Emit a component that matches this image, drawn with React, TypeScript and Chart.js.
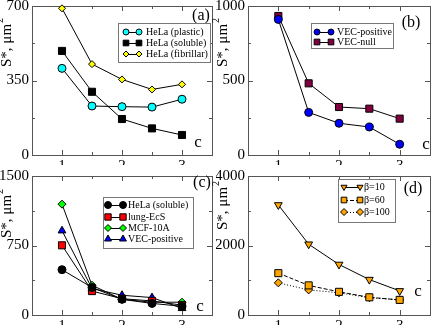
import { useEffect, useRef } from 'react';
import { Chart, registerables } from 'chart.js';
import { drawPoint } from 'chart.js/helpers';
Chart.register(...registerables);

// ---- data ----
const cValues = [1, 1.5, 2, 2.5, 3];
const xTickLabels = [1, 2, 3];

// panel (a)
const helaPlastic = [407, 230, 227, 225, 262];
const helaSoluble = [489, 297, 169, 125, 94];
const helaFibrillar = [689, 427, 355, 308, 332];
const yTicksA = [0, 350, 700];
// panel (b)
const vecPositive = [910, 286, 213, 188, 72];
const vecNull = [933, 481, 322, 311, 244];
const yTicksB = [0, 500, 1000];
// panel (c)
const lungEcS = [752, 258, 176, 152, 106];
const mcf10a = [1196, 321, 169, 138, 138];
const yTicksC = [0, 750, 1500];
// panel (d)
const beta10 = [3167, 2037, 1454, 1019, 694];
const beta60 = [1204, 852, 667, 509, 435];
const beta100 = [926, 722, 639, 500, 435];
const yTicksD = [0, 2000, 4000];

const W = 436;
const H = 331;
const YW = 32;
const XH = 10;
const FONT = 'Liberation Serif, Times New Roman, serif';

type Series = {
  label: string;
  values: number[];
  color: string;
  style: string;
  radius: number;
  legendRadius: number;
  rotation?: number;
  dash?: number[];
};

type Panel = {
  rect: { left: number; top: number; right: number; bottom: number };
  yTicks: number[];
  letter: string;
  letterPos: [number, number];
  cPos: [number, number];
  titleStart: number;
  legend: { left: number; top: number; right: number; bottom: number; rows: number[]; lx1: number; lx2: number; tx: number };
  series: Series[];
};

const panels: Panel[] = [
  {
    rect: { left: 32, top: 5, right: 212, bottom: 155 },
    yTicks: yTicksA,
    letter: '(a)',
    letterPos: [201, 16],
    cPos: [198, 143],
    titleStart: 67,
    legend: { left: 118, top: 23, right: 210, bottom: 62, rows: [32, 43, 54], lx1: 126, lx2: 139, tx: 146 },
    series: [
      { label: 'HeLa (plastic)', values: helaPlastic, color: '#00ffff', style: 'circle', radius: 4, legendRadius: 3 },
      { label: 'HeLa (soluble)', values: helaSoluble, color: '#000000', style: 'rect', radius: 5, legendRadius: 4 },
      { label: 'HeLa (fibrillar)', values: helaFibrillar, color: '#ffff00', style: 'rectRot', radius: 3.5, legendRadius: 3 },
    ],
  },
  {
    rect: { left: 248, top: 5, right: 433, bottom: 155 },
    yTicks: yTicksB,
    letter: '(b)',
    letterPos: [411, 23],
    cPos: [426, 145],
    titleStart: 67,
    legend: { left: 311, top: 23, right: 393, bottom: 48, rows: [32, 42], lx1: 317, lx2: 331, tx: 337 },
    series: [
      { label: 'VEC-positive', values: vecPositive, color: '#0000ff', style: 'circle', radius: 4, legendRadius: 3 },
      { label: 'VEC-null', values: vecNull, color: '#800040', style: 'rect', radius: 5, legendRadius: 4 },
    ],
  },
  {
    rect: { left: 32, top: 176, right: 212, bottom: 315 },
    yTicks: yTicksC,
    letter: '(c)',
    letterPos: [202, 183],
    cPos: [200, 307],
    titleStart: 238,
    legend: { left: 103, top: 197, right: 193, bottom: 248, rows: [205, 217, 228, 239], lx1: 108, lx2: 123, tx: 128 },
    series: [
      { label: 'HeLa (soluble)', values: helaSoluble, color: '#000000', style: 'circle', radius: 4, legendRadius: 3.5 },
      { label: 'lung-EcS', values: lungEcS, color: '#ff0000', style: 'rect', radius: 5, legendRadius: 4.5 },
      { label: 'MCF-10A', values: mcf10a, color: '#00ff00', style: 'rectRot', radius: 4, legendRadius: 3.5 },
      { label: 'VEC-positive', values: vecPositive, color: '#0000ff', style: 'triangle', radius: 4.5, legendRadius: 4 },
    ],
  },
  {
    rect: { left: 248, top: 176, right: 433, bottom: 315 },
    yTicks: yTicksD,
    letter: '(d)',
    letterPos: [413, 189],
    cPos: [418, 292],
    titleStart: 230,
    legend: { left: 338, top: 179, right: 395, bottom: 222, rows: [187, 200, 212], lx1: 344, lx2: 360, tx: 364 },
    series: [
      { label: 'β=10', values: beta10, color: '#ffa500', style: 'triangle', rotation: 180, radius: 4.5, legendRadius: 3.5 },
      { label: 'β=60', values: beta60, color: '#ffa500', style: 'rect', radius: 5, legendRadius: 4 },
      { label: 'β=100', values: beta100, color: '#ffa500', style: 'rectRot', radius: 4, legendRadius: 3.5, dash: [1, 2] },
    ].map((s, i) => (i === 1 ? { ...s, dash: [4, 2] } : s)),
  },
];

function makePlugin(p: Panel) {
  return {
    id: 'panelDecor',
    beforeDatasetsDraw(chart: any) {
      const ctx = chart.ctx as CanvasRenderingContext2D;
      const { left, top, right, bottom } = chart.chartArea;
      const xs = chart.scales.x;
      const ys = chart.scales.y;
      ctx.save();
      ctx.strokeStyle = '#555';
      ctx.lineWidth = 1;
      ctx.strokeRect(Math.round(left) + 0.5, Math.round(top) + 0.5, Math.round(right - left), Math.round(bottom - top));
      const xMajor = xTickLabels;
      const xMinor = [1.5, 2.5];
      const yMax = p.yTicks[p.yTicks.length - 1];
      const yMajor = p.yTicks;
      const yMinor = [yMax / 4, (3 * yMax) / 4];
      ctx.beginPath();
      const xt = (v: number, len: number) => {
        const x = Math.round(xs.getPixelForValue(v)) + 0.5;
        ctx.moveTo(x, bottom);
        ctx.lineTo(x, bottom - len);
        ctx.moveTo(x, top);
        ctx.lineTo(x, top + len);
      };
      const yt = (v: number, len: number) => {
        const y = Math.round(ys.getPixelForValue(v)) + 0.5;
        ctx.moveTo(left, y);
        ctx.lineTo(left + len, y);
        ctx.moveTo(right, y);
        ctx.lineTo(right - len, y);
      };
      xMajor.forEach((v) => xt(v, 5));
      xMinor.forEach((v) => xt(v, 3));
      yMajor.forEach((v) => yt(v, 5));
      yMinor.forEach((v) => yt(v, 3));
      ctx.stroke();
      ctx.restore();
    },
    afterDraw(chart: any) {
      const ctx = chart.ctx as CanvasRenderingContext2D;
      const { left } = chart.chartArea;
      ctx.save();
      // y title
      ctx.fillStyle = '#000';
      ctx.translate(left - 21, p.titleStart);
      ctx.rotate(-Math.PI / 2);
      ctx.font = `15px ${FONT}`;
      ctx.textAlign = 'left';
      ctx.textBaseline = 'alphabetic';
      const t = 'S*, μm';
      ctx.fillText(t, 0, 0);
      const tw = ctx.measureText(t).width;
      ctx.font = `10px ${FONT}`;
      ctx.fillText('2', tw + 1, -8);
      ctx.restore();

      ctx.save();
      ctx.fillStyle = '#000';
      ctx.textAlign = 'center';
      ctx.textBaseline = 'middle';
      ctx.font = `17px ${FONT}`;
      ctx.fillText('c', p.cPos[0], p.cPos[1]);
      ctx.font = `16px ${FONT}`;
      ctx.fillText(p.letter, p.letterPos[0], p.letterPos[1]);

      // legend
      const L = p.legend;
      ctx.fillStyle = '#fff';
      ctx.fillRect(L.left, L.top, L.right - L.left, L.bottom - L.top);
      ctx.strokeStyle = '#777';
      ctx.lineWidth = 1;
      ctx.strokeRect(L.left + 0.5, L.top + 0.5, L.right - L.left, L.bottom - L.top);
      p.series.forEach((s, i) => {
        const y = L.rows[i];
        ctx.save();
        ctx.strokeStyle = '#000';
        ctx.lineWidth = 1;
        ctx.setLineDash(s.dash || []);
        ctx.beginPath();
        ctx.moveTo(L.lx1, y + 0.5);
        ctx.lineTo(L.lx2, y + 0.5);
        ctx.stroke();
        ctx.setLineDash([]);
        [L.lx1, L.lx2].forEach((x) => {
          ctx.fillStyle = s.color;
          ctx.strokeStyle = '#000';
          ctx.lineWidth = 1;
          drawPoint(ctx, { pointStyle: s.style as any, rotation: s.rotation || 0, radius: s.legendRadius, borderWidth: 1 }, x, y);
        });
        ctx.restore();
        ctx.fillStyle = '#000';
        ctx.font = `10px ${FONT}`;
        ctx.textAlign = 'left';
        ctx.textBaseline = 'middle';
        ctx.fillText(s.label, L.tx, y + 0.5);
      });
      ctx.restore();
    },
  };
}

function PanelChart({ p }: { p: Panel }) {
  const ref = useRef<HTMLCanvasElement | null>(null);
  useEffect(() => {
    if (!ref.current) return;
    const tickFont = { family: FONT, size: 15 };
    const chart = new Chart(ref.current, {
      type: 'line',
      data: {
        datasets: p.series.map((s) => ({
          label: s.label,
          data: cValues.map((c, i) => ({ x: c, y: s.values[i] })),
          borderColor: '#000',
          borderWidth: 1,
          borderDash: s.dash || [],
          pointStyle: s.style as any,
          pointRotation: s.rotation || 0,
          pointRadius: s.radius,
          pointBackgroundColor: s.color,
          pointBorderColor: '#000',
          pointBorderWidth: 1,
          tension: 0,
          fill: false,
          clip: false as any,
        })),
      },
      options: {
        animation: false,
        responsive: false,
        devicePixelRatio: 1,
        layout: {
          padding: {
            left: p.rect.left - YW,
            top: p.rect.top,
            right: W - p.rect.right,
            bottom: H - p.rect.bottom - XH,
          },
        },
        plugins: { legend: { display: false }, tooltip: { enabled: false } },
        scales: {
          x: {
            type: 'linear',
            min: 0.5,
            max: 3.5,
            afterBuildTicks: (s: any) => {
              s.ticks = xTickLabels.map((v) => ({ value: v }));
            },
            afterFit: (s: any) => {
              s.height = XH;
              s.paddingLeft = 0;
              s.paddingRight = 0;
              s.paddingTop = 0;
              s.paddingBottom = 0;
            },
            grid: { display: false, drawTicks: false },
            border: { display: false },
            ticks: { font: tickFont, color: '#000', padding: 2, maxRotation: 0, autoSkip: false, callback: (v: any) => String(v) },
          },
          y: {
            type: 'linear',
            min: 0,
            max: p.yTicks[p.yTicks.length - 1],
            afterBuildTicks: (s: any) => {
              s.ticks = p.yTicks.map((v) => ({ value: v }));
            },
            afterFit: (s: any) => {
              s.width = YW;
              s.paddingLeft = 0;
              s.paddingRight = 0;
              s.paddingTop = 0;
              s.paddingBottom = 0;
            },
            grid: { display: false, drawTicks: false },
            border: { display: false },
            ticks: { font: tickFont, color: '#000', padding: 3, autoSkip: false, callback: (v: any) => String(v) },
          },
        },
      } as any,
      plugins: [makePlugin(p)],
    });
    return () => chart.destroy();
  }, [p]);
  return (
    <canvas
      ref={ref}
      width={W}
      height={H}
      style={{ position: 'absolute', left: 0, top: 0, width: W, height: H }}
    />
  );
}

export default function App() {
  return (
    <div style={{ position: 'fixed', left: 0, top: 0, width: W, height: H, background: '#fff' }}>
      {panels.map((p, i) => (
        <PanelChart key={i} p={p} />
      ))}
    </div>
  );
}
